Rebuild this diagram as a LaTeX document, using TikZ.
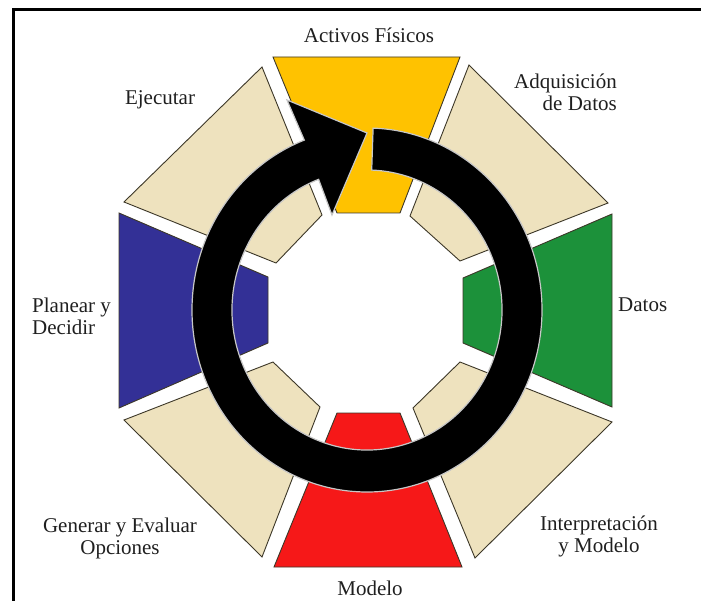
\documentclass[tikz,border=0pt]{standalone}
\usepackage{fontspec}
\setmainfont{Liberation Serif}
\definecolor{sandSeg}{RGB}{238,226,190}
\definecolor{goldSeg}{RGB}{255,194,0}
\definecolor{greenSeg}{RGB}{28,145,58}
\definecolor{redSeg}{RGB}{246,24,24}
\definecolor{blueSeg}{RGB}{51,48,150}
\definecolor{edgeCol}{RGB}{60,55,40}
\tikzset{
  seg/.style={draw=edgeCol, line width=0.9pt, line join=miter},
  lbl/.style={inner sep=0pt, text=black!88, font=\fontsize{21}{22}\selectfont},
  cycleband/.style={fill=black, draw=black!22, line width=1.2pt, line join=miter},
  framerule/.style={line width=3pt}
}
\begin{document}
\begin{tikzpicture}[x=1pt, y=-1pt]
\useasboundingbox (0,0) rectangle (701,601);
% open frame: top and left rules
\draw[framerule] (13,601) -- (13,10) -- (701,10);

% eight stages arranged as an octagon
\filldraw[seg, fill=goldSeg]  (273,57) -- (460,57) -- (400,213) -- (337,213) -- cycle;
\filldraw[seg, fill=sandSeg]  (469,65) -- (608,203) -- (460,261) -- (410,216) -- cycle;
\filldraw[seg, fill=greenSeg] (612,214) -- (612,407) -- (463,343) -- (463,278) -- cycle;
\filldraw[seg, fill=sandSeg]  (460,362) -- (612,422) -- (475,558) -- (413,408) -- cycle;
\filldraw[seg, fill=redSeg]   (337,413) -- (400,413) -- (462,567) -- (274,567) -- cycle;
\filldraw[seg, fill=sandSeg]  (273,362) -- (320,407) -- (262,557) -- (124,420) -- cycle;
\filldraw[seg, fill=blueSeg]  (119,213) -- (268,277) -- (268,343) -- (119,408) -- cycle;
\filldraw[seg, fill=sandSeg]  (262,67) -- (322,215) -- (276,263) -- (124,202) -- cycle;

% clockwise cycle arrow
\coordinate (c) at (367,310);
\coordinate (headout) at (287,100);
\coordinate (tip) at (367,133);
\coordinate (headin) at (332,215);
\filldraw[cycleband]
  ([shift={(-88:175 and 182)}]c) arc[start angle=-88, end angle=249, x radius=175, y radius=182]
  -- (headout) -- (tip) -- (headin)
  -- ([shift={(249:135 and 140)}]c) arc[start angle=249, end angle=-88, x radius=135, y radius=140]
  -- cycle;

% stage labels
\node[lbl, anchor=base] (fis) at (369,43) {Activos Físicos};
\node[lbl, anchor=east, align=right] (adq) at (617,92) {Adquisición\\de Datos};
\node[lbl, anchor=base west] (dat) at (618,312) {Datos};
\node[lbl, align=center] (int) at (599,536) {Interpretación\\y Modelo};
\node[lbl, anchor=base] (mod) at (370,595) {Modelo};
\node[lbl, align=center] (gen) at (120,538) {Generar y Evaluar\\Opciones};
\node[lbl, anchor=west, align=left] (pla) at (32,316) {Planear y\\Decidir};
\node[lbl, anchor=base] (eje) at (160,105) {Ejecutar};
\end{tikzpicture}
\end{document}
